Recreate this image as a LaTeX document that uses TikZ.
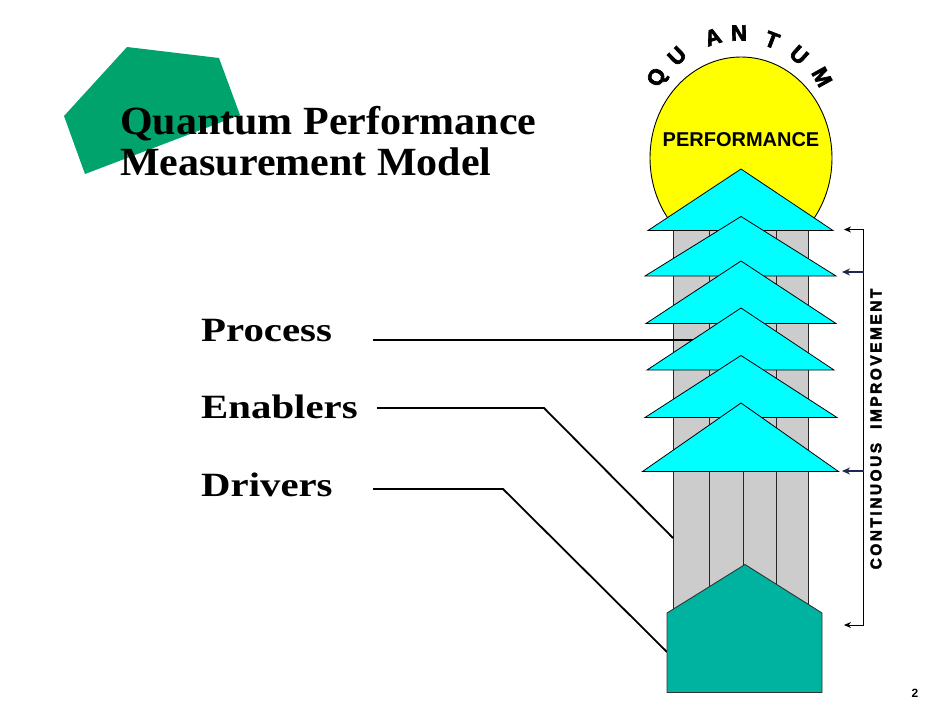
\documentclass[tikz,border=0pt]{standalone}
\usepackage{fontspec}
\setmainfont{Liberation Serif}
\newfontfamily\arialfont{Liberation Sans}
\newfontfamily\blackfont{Liberation Sans}[BoldFeatures={FakeBold=3}]
\newfontfamily\trackfont{Liberation Sans}[LetterSpace=16,BoldFeatures={FakeBold=2.5}]
\usetikzlibrary{arrows.meta}
\definecolor{titlegreen}{RGB}{0,163,108}
\definecolor{sunyellow}{RGB}{255,255,0}
\definecolor{pillargray}{RGB}{204,204,204}
\definecolor{roofcyan}{RGB}{0,255,255}
\definecolor{houseteal}{RGB}{0,178,160}
\definecolor{navyline}{RGB}{30,40,80}
\definecolor{tipblue}{RGB}{120,140,200}
\tikzset{
  pillar/.style={fill=pillargray, draw=black!85, line width=0.9pt},
  roof/.style={fill=roofcyan, draw=black, line width=0.8pt, line join=miter},
  leader/.style={draw=black, line width=1.8pt},
  labeltext/.style={anchor=base west, inner sep=0pt, font=\fontsize{34}{36}\selectfont\bfseries},
  titletext/.style={anchor=base west, inner sep=0pt, font=\fontsize{40}{41}\selectfont\bfseries},
  arcletter/.style={inner sep=0pt, font=\blackfont\fontsize{22}{22}\selectfont\bfseries},
  thinarrow/.style={draw=black, line width=0.9pt, -{Stealth[length=7pt,width=6pt]}},
  boldarrow/.style={draw=navyline, line width=2.4pt, -{Stealth[length=8pt,width=7pt,fill=tipblue]}},
}
\begin{document}
\begin{tikzpicture}[x=1pt,y=-1pt]
\useasboundingbox (0,0) rectangle (950,713);
% green title pentagon
\fill[titlegreen] (127,47) -- (219,58) -- (240,115) -- (85,174) -- (64,116) -- cycle;
\node[titletext] (t1) at (120,134.5) {\scalebox{1.05}[1]{Quantum Performance}};
\node[titletext] (t2) at (120,175.5) {\scalebox{1.05}[1]{Measurement Model}};
% sun
\draw[fill=sunyellow, line width=0.9pt] (741,158) ellipse [x radius=91, y radius=101];
\node[inner sep=0pt, font=\arialfont\fontsize{20}{20}\selectfont\bfseries] (perf) at (741,140) {PERFORMANCE};
% QUANTUM on an arc
\node[arcletter, rotate=62] (q1) at (658,78) {Q};
\node[arcletter, rotate=44] (q2) at (677,56) {U};
\node[arcletter, rotate=18] (q3) at (713,37) {A};
\node[arcletter, rotate=1] (q4) at (739,33) {N};
\node[arcletter, rotate=-21] (q5) at (772,40) {T};
\node[arcletter, rotate=-42] (q6) at (799,55) {U};
\node[arcletter, rotate=-61] (q7) at (822,77) {M};
% pillars
\draw[pillar] (673,228) rectangle (709,630);
\draw[pillar] (709,228) rectangle (743,630);
\draw[pillar] (743,228) rectangle (776,630);
\draw[pillar] (776,228) rectangle (808,630);
% labels and leaders
\node[labeltext] (proc) at (201,341) {\scalebox{1.2}[1]{Process}};
\node[labeltext] (enab) at (201,418) {\scalebox{1.2}[1]{Enablers}};
\node[labeltext] (driv) at (201,496.5) {\scalebox{1.2}[1]{Drivers}};
\coordinate (p0) at (373,340);
\coordinate (p1) at (698,340);
\coordinate (e0) at (377,408);
\coordinate (e1) at (544,408);
\coordinate (e2) at (673,538);
\coordinate (d0) at (373,489);
\coordinate (d1) at (503,489);
\coordinate (d2) at (667,652);
\draw[leader] (p0) -- (p1);
\draw[leader] (e0) -- (e1) -- (e2);
\draw[leader] (d0) -- (d1) -- (d2);
% roofs
\draw[roof] (648,230.5) -- (741,169) -- (833,230.5) -- cycle;
\draw[roof] (645,276) -- (741,216.5) -- (836,276) -- cycle;
\draw[roof] (646,323.5) -- (741,261) -- (836,323.5) -- cycle;
\draw[roof] (647,370) -- (741,308) -- (834,370) -- cycle;
\draw[roof] (645,417.5) -- (741,355.5) -- (837,417.5) -- cycle;
\draw[roof] (642.5,471.5) -- (741,403) -- (838.5,471.5) -- cycle;
% house base
\draw[fill=houseteal, draw=black!80, line width=0.9pt] (667,613) -- (745,564.5) -- (822,613) -- (822,692.5) -- (667,692.5) -- cycle;
% continuous improvement bracket
\coordinate (btop) at (863.5,229.5);
\coordinate (bbot) at (863.5,625);
\coordinate (a1) at (844,229.5);
\coordinate (b2) at (863.5,272);
\coordinate (a2) at (842,272);
\coordinate (b3) at (863.5,471);
\coordinate (a3) at (842,471);
\coordinate (a4) at (844,625);
\draw[draw=black, line width=0.9pt] (btop) -- (bbot);
\draw[thinarrow] (btop) -- (a1);
\draw[thinarrow] (bbot) -- (a4);
\draw[boldarrow] (b2) -- (a2);
\draw[boldarrow] (b3) -- (a3);
\node[rotate=90, inner sep=0pt, font=\trackfont\fontsize{15.5}{15.5}\selectfont\bfseries] (ci) at (876,429) {CONTINUOUS\hspace{14pt}IMPROVEMENT};
% page number
\node[inner sep=0pt, font=\arialfont\fontsize{12}{12}\selectfont\bfseries] (pg) at (915,693) {2};
\end{tikzpicture}
\end{document}
